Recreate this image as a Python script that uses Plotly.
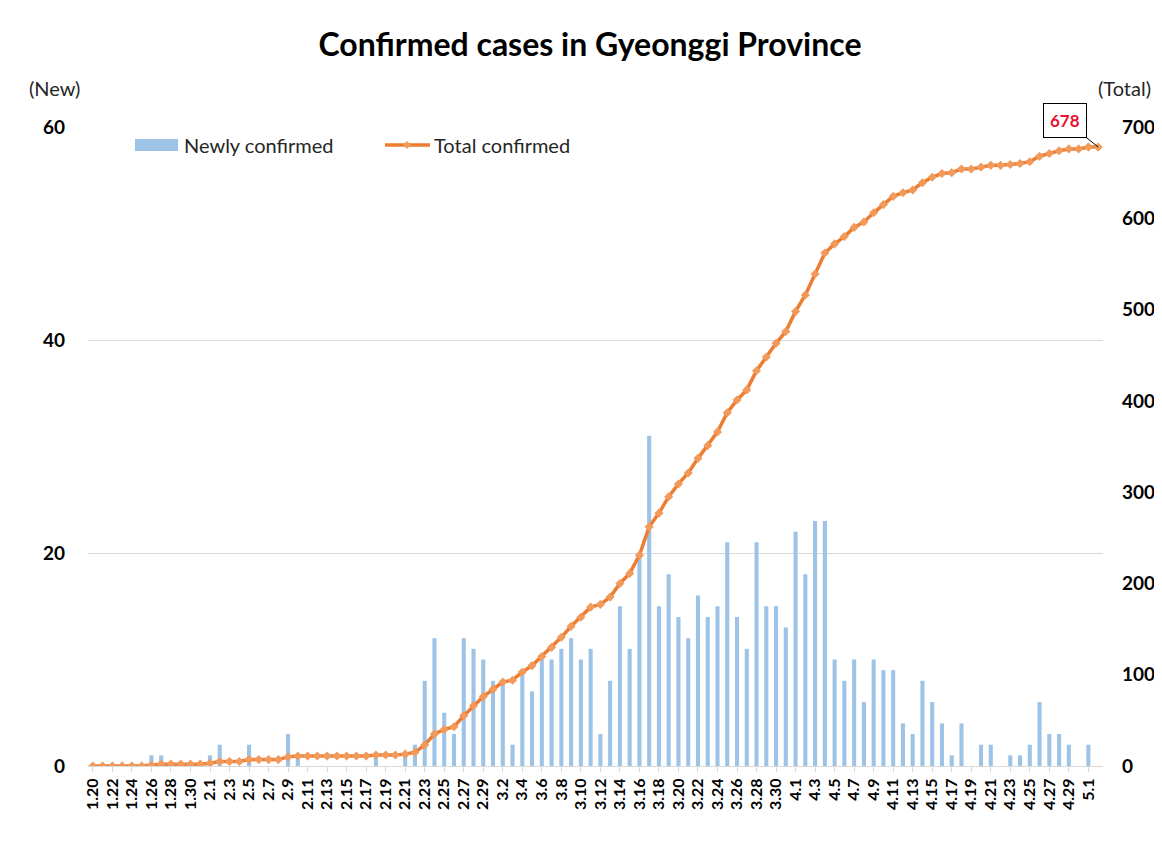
import plotly.graph_objects as go
import datetime as dt

# Category labels (M.D), 2020-01-20 .. 2020-05-02
start = dt.date(2020, 1, 20)
dates = [f"{d.month}.{d.day}" for d in (start + dt.timedelta(days=k) for k in range(104))]

new_cases = [
    0, 0, 0, 0, 0, 0, 1, 1, 0, 0, 0, 0,                      # 1.20-1.31
    1, 2, 0, 0, 2, 0, 0, 0, 3, 1, 0, 0, 0, 0, 0, 0, 0, 1, 0, 0, 1, 2,  # 2.1-2.22
    8, 12, 5, 3, 12, 11, 10,                                  # 2.23-2.29
    8, 8, 2, 9, 7, 10, 10, 11, 12, 10, 11, 3, 8, 15, 11, 20,  # 3.1-3.16
    31, 15, 18, 14, 12, 16, 14, 15, 21, 14, 11, 21, 15, 15, 13,  # 3.17-3.31
    22, 18, 23, 23, 10, 8, 10, 6, 10, 9, 9, 4, 3, 8, 6, 4,    # 4.1-4.16
    1, 4, 0, 2, 2, 0, 1, 1, 2, 6, 3, 3, 2, 0,                 # 4.17-4.30
    2, 0,                                                     # 5.1-5.2
]

total_cases = [
    0, 0, 0, 0, 0, 0, 1, 2, 2, 2, 2, 2,
    3, 5, 5, 5, 7, 7, 7, 7, 10, 11, 11, 11, 11, 11, 11, 11, 11, 12, 12, 12, 13, 15,
    23, 35, 40, 43, 55, 66, 76,
    84, 92, 94, 103, 110, 120, 130, 141, 153, 163, 174, 177, 185, 200, 211, 231,
    262, 277, 295, 309, 321, 337, 351, 366, 387, 401, 412, 433, 448, 463, 476,
    498, 516, 539, 562, 572, 580, 590, 596, 606, 615, 624, 628, 631, 639, 645, 649,
    650, 654, 654, 656, 658, 658, 659, 660, 662, 668, 671, 674, 676, 676,
    678, 678,
]

tick_labels = dates[::2]

title_text = "Confirmed cases in Gyeonggi Province"
left_ticks = [0, 20, 40, 60]
right_ticks = [0, 100, 200, 300, 400, 500, 600, 700]

FONT = "Lato"
BAR_COLOR = "#9DC3E6"
LINE_COLOR = "#ED7D31"

fig = go.Figure()
fig.add_trace(go.Bar(
    x=dates, y=new_cases, name="Newly confirmed",
    marker=dict(color=BAR_COLOR, line=dict(width=0)),
    yaxis="y", showlegend=False,
))
fig.add_trace(go.Scatter(
    x=dates, y=total_cases, name="Total confirmed", mode="lines+markers",
    line=dict(color=LINE_COLOR, width=3.5),
    marker=dict(symbol="diamond", size=7, color="#F19A5C", line=dict(width=0)),
    yaxis="y2", showlegend=False,
))

# page body has an 8px margin, so the figure is offset by 8px
OFF = 8
W, H = 1162 - OFF, 862 - OFF
L, T = 88 - OFF, 127 - OFF
R = W - (1103 - OFF)
B = H - (766 - OFF)
pw, ph = W - L - R, H - T - B

def px_x(p):  # p given in window pixels
    return (p - OFF - L) / pw

def px_y(p):
    return (H - B - (p - OFF)) / ph

fig.update_layout(
    width=W, height=H,
    margin=dict(l=L, r=R, t=T, b=B, autoexpand=False),
    paper_bgcolor="white", plot_bgcolor="white",
    font=dict(family=FONT, color="#000000"),
    bargap=0.58,
    title=dict(text=f"<b>{title_text}</b>", x=(590 - OFF) / W, xanchor="center",
               y=1 - (45 - OFF) / H, yanchor="middle",
               font=dict(family=FONT, size=32, color="#000000")),
    xaxis=dict(
        type="category", tickmode="array", tickvals=tick_labels, ticktext=tick_labels,
        tickangle=-90, tickfont=dict(family=FONT, size=16, color="#000000", weight="bold"),
        showline=True, linecolor="#D9D9D9", linewidth=1,
        ticks="outside", ticklen=5, tickcolor="#D9D9D9",
        showgrid=False, range=[-0.5, len(dates) - 0.5],
    ),
    yaxis=dict(
        range=[0, 60], tickvals=left_ticks, showgrid=True, gridcolor="#D9D9D9",
        zeroline=False, showline=False,
        tickfont=dict(family=FONT, size=19, color="#000000", weight="bold"),
        ticklabelstandoff=22,
    ),
    yaxis2=dict(
        range=[0, 700], tickvals=right_ticks, overlaying="y", side="right",
        showgrid=False, zeroline=False, showline=False,
        tickfont=dict(family=FONT, size=19, color="#000000", weight="bold"),
        ticklabelstandoff=18,
    ),
    hovermode=False,
)

# Manual legend
fig.add_shape(type="rect", xref="paper", yref="paper",
              x0=px_x(135), x1=px_x(178), y0=px_y(151), y1=px_y(139),
              fillcolor=BAR_COLOR, line=dict(width=0))
fig.add_shape(type="line", xref="paper", yref="paper",
              x0=px_x(385), x1=px_x(430), y0=px_y(145), y1=px_y(145),
              line=dict(color=LINE_COLOR, width=3.5))
fig.add_shape(type="path", xref="paper", yref="paper",
              path=f"M {px_x(403)},{px_y(145)} L {px_x(407)},{px_y(141)} L {px_x(411)},{px_y(145)} L {px_x(407)},{px_y(149)} Z",
              fillcolor="#F19A5C", line=dict(width=0))
fig.add_annotation(xref="paper", yref="paper", x=px_x(182), y=px_y(145),
                   text="Newly confirmed", showarrow=False, xanchor="left", yanchor="middle",
                   font=dict(family=FONT, size=20, color="#262626"))
fig.add_annotation(xref="paper", yref="paper", x=px_x(432), y=px_y(145),
                   text="Total confirmed", showarrow=False, xanchor="left", yanchor="middle",
                   font=dict(family=FONT, size=20, color="#262626"))

# Axis unit labels
fig.add_annotation(xref="paper", yref="paper", x=px_x(54), y=px_y(88),
                   text="(New)", showarrow=False, xanchor="center", yanchor="middle",
                   font=dict(family=FONT, size=20, color="#262626"))
fig.add_annotation(xref="paper", yref="paper", x=px_x(1124), y=px_y(88),
                   text="(Total)", showarrow=False, xanchor="center", yanchor="middle",
                   font=dict(family=FONT, size=20, color="#262626"))

# Last-value callout
fig.add_annotation(x=len(dates) - 1, y=total_cases[-1], xref="x", yref="y2",
                   text=f"<b>{total_cases[-1]}</b>", showarrow=True, arrowhead=0,
                   arrowwidth=1, arrowcolor="#000000", ax=-33, ay=-27,
                   bordercolor="#000000", borderwidth=1, borderpad=6, bgcolor="white",
                   font=dict(family=FONT, size=17, color="#E8112D"))

fig.write_html("out.html")
